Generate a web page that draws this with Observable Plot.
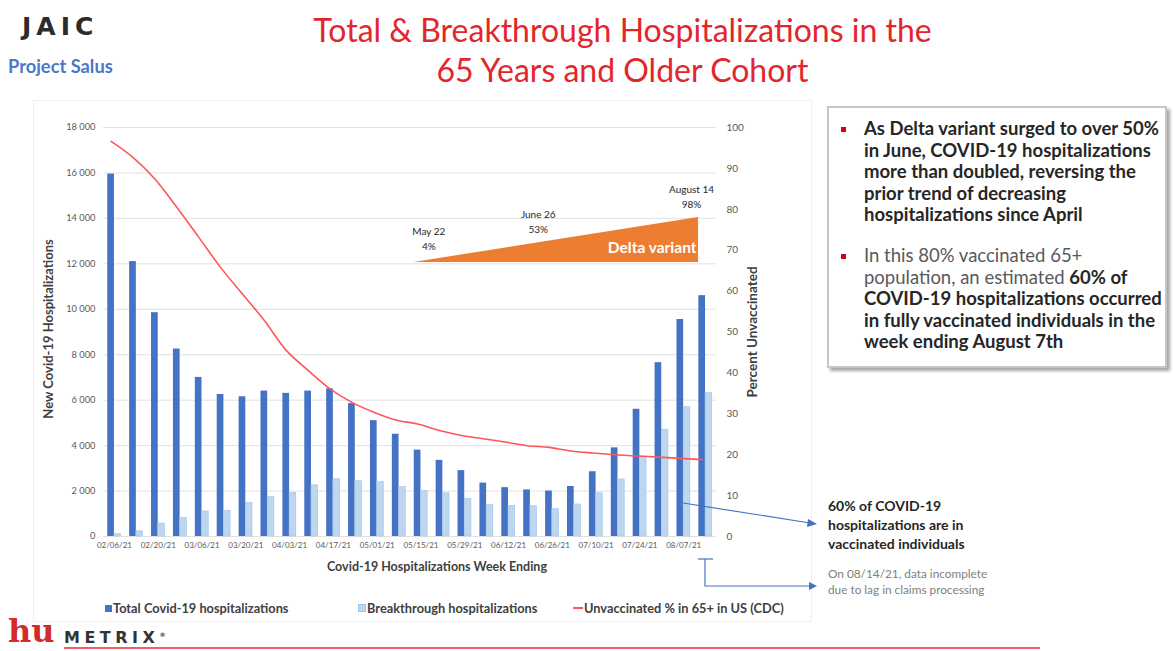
<!DOCTYPE html>
<html><head><meta charset="utf-8">
<script src="https://cdn.jsdelivr.net/npm/d3@7"></script>
<script src="https://cdn.jsdelivr.net/npm/@observablehq/plot@0.6"></script>
<style>
body{margin:0;background:#fff;font-family:Lato,"Open Sans",sans-serif;}
#page{position:relative;width:1173px;height:651px;overflow:hidden;background:#fff;}
.abs{position:absolute;white-space:nowrap;}
#chart{position:absolute;left:0;top:100px;}
.title{left:0;width:1245px;text-align:center;color:#e3262b;font-size:32px;line-height:40px;font-family:Lato,sans-serif;}
.box{position:absolute;left:827px;top:106px;width:336px;height:258px;border:2px solid #c6c6c6;box-shadow:3px 3px 3px #a6a6a6;background:#fff;}
.bl{position:absolute;left:35px;font-size:18.5px;line-height:21.5px;font-weight:bold;color:#262626;white-space:nowrap;}
.bul{position:absolute;left:12px;width:5px;height:5px;background:#d0021b;}
.leg{position:absolute;top:600px;font-size:12.8px;font-weight:bold;color:#404040;white-space:nowrap;}
.sw{display:inline-block;width:7px;height:7px;margin-right:1px;vertical-align:1px;}
</style></head><body><div id="page">
<div class="abs" style="left:22px;top:12px;font-family:'DejaVu Sans',sans-serif;font-weight:bold;font-size:25px;letter-spacing:5px;color:#2b2b2b;">JAIC</div>
<div class="abs" style="left:8px;top:55px;font-weight:bold;font-size:18.3px;color:#4a78c8;">Project Salus</div>
<div class="abs title" style="top:10px;">Total &amp; Breakthrough Hospitalizations in the</div>
<div class="abs title" style="top:50px;">65 Years and Older Cohort</div>
<div class="abs" style="left:33px;top:100px;width:777px;height:520px;border:1px solid #f0f0f0;"></div>
<div id="chart"></div>
<div class="leg" style="left:105px;"><span class="sw" style="background:#4472c4"></span>Total Covid-19 hospitalizations</div>
<div class="leg" style="left:358px;"><span class="sw" style="background:#bdd7ee;border:0.5px solid #9dc3e6;width:6px;height:6px"></span>Breakthrough hospitalizations</div>
<div class="leg" style="left:573px;"><span style="display:inline-block;width:10px;height:2px;background:#ff5757;vertical-align:4px;margin-right:1px"></span>Unvaccinated % in 65+ in US (CDC)</div>
<div class="box">
  <div class="bul" style="top:19px"></div>
  <div class="bl" style="top:10px">As Delta variant surged to over 50%<br>in June, COVID-19 hospitalizations<br>more than doubled, reversing the<br>prior trend of decreasing<br>hospitalizations since April</div>
  <div class="bul" style="top:146px"></div>
  <div class="bl" style="top:137px"><span style="font-weight:normal;color:#595959">In this 80% vaccinated 65+<br>population, an estimated </span>60% of<br>COVID-19 hospitalizations occurred<br>in fully vaccinated individuals in the<br>week ending August 7th</div>
</div>
<div class="abs" style="left:828px;top:496px;font-size:14px;font-weight:bold;line-height:19px;color:#262626;">60% of COVID-19<br>hospitalizations are in<br>vaccinated individuals</div>
<div class="abs" style="left:828px;top:566px;font-size:11.8px;line-height:16px;color:#808080;">On 08/14/21, data incomplete<br>due to lag in claims processing</div>
<svg class="abs" style="left:0;top:0" width="1173" height="651">
  <g stroke="#4472c4" stroke-width="1.2" fill="none">
    <line x1="683" y1="503" x2="810" y2="523"/>
    <line x1="698" y1="559" x2="713" y2="559"/>
    <polyline points="705,559 705,586 810,586"/>
  </g>
  <g fill="#4472c4">
    <polygon points="817,524 808,519 807,527"/>
    <polygon points="817,586 809,582 809,590"/>
  </g>
  <line x1="64" y1="648" x2="1040" y2="648" stroke="#e03030" stroke-width="1.5"/>
</svg>
<div class="abs" style="left:8px;top:614px;font-family:'DejaVu Serif',serif;font-weight:bold;font-size:32px;color:#d42a2a;line-height:34px;">hu</div>
<div class="abs" style="left:64px;top:625px;font-family:'DejaVu Sans',sans-serif;font-weight:bold;font-size:16px;letter-spacing:4.5px;color:#333;line-height:20px;">METRIX<sup style="font-size:6px;letter-spacing:0">®</sup></div>
</div>
<script>
const weeks = ["02/06/21","02/13/21","02/20/21","02/27/21","03/06/21","03/13/21","03/20/21","03/27/21","04/03/21","04/10/21","04/17/21","04/24/21","05/01/21","05/08/21","05/15/21","05/22/21","05/29/21","06/05/21","06/12/21","06/19/21","06/26/21","07/03/21","07/10/21","07/17/21","07/24/21","07/31/21","08/07/21","08/14/21"];
const totalHosp = [15950,12100,9850,8250,7000,6250,6150,6400,6300,6400,6500,5850,5100,4500,3800,3350,2900,2350,2150,2050,2000,2200,2850,3900,5600,7650,9550,10600];
const breakthroughHosp = [100,230,570,810,1100,1130,1470,1730,1920,2250,2520,2430,2390,2170,2000,1900,1660,1400,1340,1330,1200,1410,1900,2510,3520,4700,5690,6310];
const unvaccinatedPct = [96.6,92.7,87.4,80.5,73.2,65.8,59.3,52.8,45.5,40.6,36.1,32.8,30.4,28.5,27.5,25.9,24.7,23.9,23.1,22.2,21.8,20.9,20.4,20.0,19.7,19.4,19.1,18.8];
const xTickLabels = ["02/06/21","02/20/21","03/06/21","03/20/21","04/03/21","04/17/21","05/01/21","05/15/21","05/29/21","06/12/21","06/26/21","07/10/21","07/24/21","08/07/21"];
const leftTicks = [0,2000,4000,6000,8000,10000,12000,14000,16000,18000];
const rightTicks = [0,10,20,30,40,50,60,70,80,90,100];
const deltaWedge = [{week:"05/15/21", base:67, top:67},{week:"08/14/21", base:67, top:78}];
const deltaLabels = [{week:"05/22/21", label:"May 22\n4%", pct:73.1},{week:"06/26/21", label:"June 26\n53%", pct:77.1},{week:"08/14/21", label:"August 14\n98%", pct:83.4}];
const deltaTitle = [{week:"08/14/21", label:"Delta variant", pct:70.6}];

const K = 18000/100;
const rows = weeks.map((w,i)=>({week:w,total:totalHosp[i],breakthrough:breakthroughHosp[i],pct:unvaccinatedPct[i]}));
const fmt = d => d3.format(",")(d).replace(/,/g," ");

const chart = Plot.plot({
  width: 800, height: 480,
  marginLeft: 103, marginRight: 84, marginTop: 27, marginBottom: 44,
  style: {fontFamily: "Lato, sans-serif", background: "transparent", overflow: "visible"},
  x: {type: "band", domain: weeks, padding: 0, round: false},
  y: {domain: [0, 18000]},
  marks: [
    Plot.gridY(leftTicks, {stroke: "#d9d9d9", strokeOpacity: 1, strokeWidth: 0.8}),
    Plot.barY(rows, {x: "week", y: "total", fill: "#4472c4", insetLeft: 4.25, insetRight: 10.95}),
    Plot.barY(rows, {x: "week", y: "breakthrough", fill: "#bdd7ee", stroke: "#9dc3e6", strokeWidth: 0.6, insetLeft: 10.95, insetRight: 4.25}),
    Plot.areaY(deltaWedge, {x: "week", y1: d => d.base*K, y2: d => d.top*K, fill: "#ed7d31", curve: "linear", dx: -7}),
    Plot.text(deltaTitle, {x: "week", y: d => d.pct*K, text: "label", textAnchor: "end", dx: -9, fill: "white", fontWeight: "bold", fontSize: 15.5}),
    Plot.text(deltaLabels, {x: "week", y: d => d.pct*K, text: "label", dx: -14, fontSize: 10, lineHeight: 1.5, fill: "#262626"}),
    Plot.line(rows, {x: "week", y: d => d.pct*K, stroke: "#ff5757", strokeWidth: 1.6, curve: "catmull-rom", dx: -3.35}),
    Plot.axisX(xTickLabels, {tickSize: 0, tickPadding: 6, fontSize: 8, fill: "#595959", label: null}),
    Plot.axisY(leftTicks, {anchor: "left", tickSize: 0, tickPadding: 8, tickFormat: fmt, fontSize: 9.3, fill: "#595959", label: null}),
    Plot.axisY(rightTicks.map(p => p*K), {anchor: "right", tickSize: 0, tickPadding: 10, tickFormat: d => Math.round(d/K), fontSize: 10, fill: "#595959", label: null}),
    Plot.text(["New Covid-19 Hospitalizations"], {frameAnchor: "left", rotate: -90, dx: -55, dy: -3, textAnchor: "middle", lineAnchor: "middle", fontSize: 13, fontWeight: "bold", fill: "#404040"}),
    Plot.text(["Percent Unvaccinated"], {frameAnchor: "right", rotate: -90, dx: 36, textAnchor: "middle", lineAnchor: "middle", fontSize: 13.5, fontWeight: "bold", fill: "#404040"}),
    Plot.text(["Covid-19 Hospitalizations Week Ending"], {frameAnchor: "bottom", dy: 30, dx: 27, textAnchor: "middle", lineAnchor: "middle", fontSize: 12.5, fontWeight: "bold", fill: "#404040"})
  ]
});
document.getElementById("chart").appendChild(chart);
</script>
</body></html>
